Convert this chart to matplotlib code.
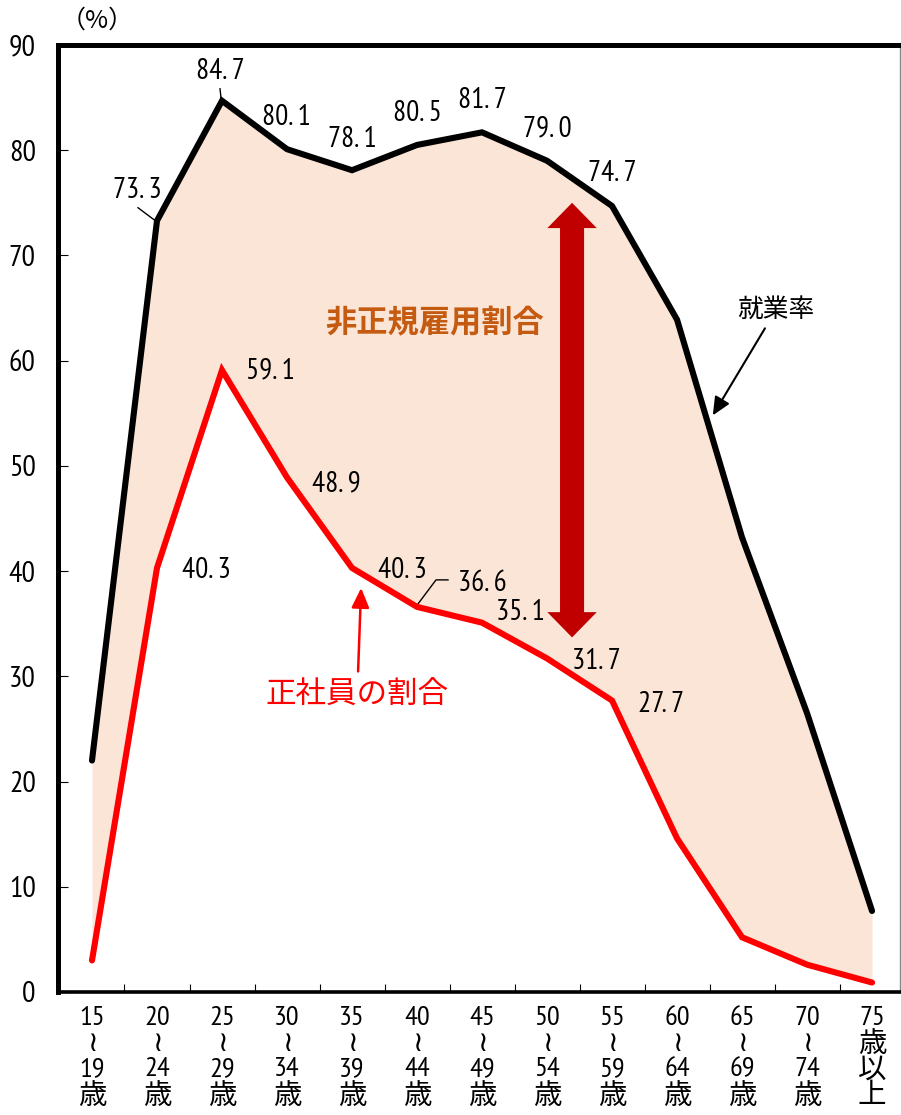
#!/usr/bin/env python3

import matplotlib
matplotlib.use('Agg')
import matplotlib.pyplot as plt
import matplotlib.transforms as mtransforms
from matplotlib.lines import Line2D
from matplotlib.patches import Polygon

NUM_FONT = ['PT Sans Narrow', 'DejaVu Sans', 'Noto Sans CJK JP']
JP_FONT = ['Noto Sans CJK JP', 'DejaVu Sans']

# age bands: lower bound, upper bound (None = open ended)
age_from = ['15', '20', '25', '30', '35', '40', '45', '50', '55', '60', '65', '70', '75']
age_to = ['19', '24', '29', '34', '39', '44', '49', '54', '59', '64', '69', '74', None]
employment_rate = [22.0, 73.3, 84.7, 80.1, 78.1, 80.5, 81.7, 79.0, 74.7, 63.9, 43.2, 26.5, 7.7]
regular_share = [3.0, 40.3, 59.1, 48.9, 40.3, 36.6, 35.1, 31.7, 27.7, 14.6, 5.2, 2.6, 0.9]

# label offsets in pixels from each point (None = no label)
emp_offsets = [None, (-20, 33), (-2, 32), (-1, 35), (0, 34), (0, 34), (0, 35), (0, 35), (0, 35),
               None, None, None, None]
reg_offsets = [None, (49, 0), (48, 2), (49, -3), (50, 0), (65, 26), (38, 13), (49, 0), (49, -1),
               None, None, None, None]

FILL = '#FBE5D6'
DARKRED = '#C00000'
ORANGE = '#C55A11'

W, H = 901, 1115


def fmt(v):
    return '{:.1f}'.format(v).replace('.', '. ')


def leader(ax, x, y, pts):
    # polyline given as pixel offsets from a data point
    px, py = ax.transData.transform((x, y))
    xs = [px + dx for dx, dy in pts]
    ys = [py + dy for dx, dy in pts]
    ax.add_line(Line2D(xs, ys, color='black', lw=1.0,
                       transform=mtransforms.IdentityTransform()))


def double_arrow(ax, xc, y_top, y_bot, shaft, head, h, color):
    pts = [(xc, y_top), (xc + head, y_top - h), (xc + shaft, y_top - h),
           (xc + shaft, y_bot + h), (xc + head, y_bot + h), (xc, y_bot),
           (xc - head, y_bot + h), (xc - shaft, y_bot + h), (xc - shaft, y_top - h),
           (xc - head, y_top - h)]
    ax.add_patch(Polygon(pts, closed=True, facecolor=color, edgecolor='none', zorder=2))


def main():
    fig = plt.figure(figsize=(W / 100, H / 100), dpi=100)
    ax = fig.add_axes([58 / W, 123 / H, (900 - 58) / W, (992 - 45) / H])

    x = list(range(len(age_from)))
    ax.set_xlim(-0.523, 12.43)
    ax.set_ylim(0, 90)

    ax.fill_between(x, regular_share, employment_rate, color=FILL, lw=0, zorder=1)
    ax.plot(x, employment_rate, color='black', lw=4.4, solid_capstyle='round',
            solid_joinstyle='miter', zorder=4)
    ax.plot(x, regular_share, color='#FF0000', lw=4.4, solid_capstyle='round',
            solid_joinstyle='miter', zorder=4)

    for vals, offsets in [(employment_rate, emp_offsets), (regular_share, reg_offsets)]:
        for i, (v, off) in enumerate(zip(vals, offsets)):
            if off is None:
                continue
            ax.annotate(fmt(v), (i, v), xytext=(off[0], off[1] - 3),
                        textcoords='offset pixels', ha='center', va='center',
                        fontsize=21, family=NUM_FONT, zorder=5)

    leader(ax, 1, employment_rate[1], [(-19, 13), (-3, 1)])
    leader(ax, 2, employment_rate[2], [(-2, 12), (-1, 3)])
    leader(ax, 5, regular_share[5], [(31, 27), (19, 27), (1, 3)])

    # spread between employment and regular share
    double_arrow(ax, 7.385, 75.0, 33.7, 0.185, 0.38, 2.4, DARKRED)
    ax.text(5.266, 63.5, '非正規雇用割合', ha='center', va='center', fontsize=22.5,
            fontweight='bold', color=ORANGE, family=JP_FONT, zorder=5)

    ax.annotate('就業率', xy=(9.55, 54.8), xytext=(10.52, 64.8), ha='center', va='center',
                fontsize=18.5, family=JP_FONT, zorder=5,
                arrowprops=dict(arrowstyle='-|>,head_length=0.55,head_width=0.25',
                                mutation_scale=20, color='black', lw=1.5,
                                shrinkA=2, shrinkB=0))
    ax.annotate('正社員の割合', xy=(4.14, 38.4), xytext=(4.08, 28.2), ha='center', va='center',
                fontsize=22, family=JP_FONT, color='#FF0000', zorder=5,
                arrowprops=dict(arrowstyle='-|>,head_length=0.6,head_width=0.27',
                                mutation_scale=20, color='#FF0000', lw=1.8,
                                shrinkA=4, shrinkB=0))

    ax.set_yticks(range(0, 91, 10))
    ax.tick_params(axis='y', direction='in', length=7, width=0.8, pad=16,
                   labelsize=21.5)
    for lab in ax.get_yticklabels():
        lab.set_family(NUM_FONT)

    # age labels stacked vertically under each category
    ax.set_xticks([])
    ax.set_xticks([i + 0.5 for i in range(len(x) - 1)], minor=True)
    ax.tick_params(axis='x', which='minor', direction='in', length=6, width=0.8)
    trans = mtransforms.blended_transform_factory(ax.transData, fig.transFigure)
    for i, (lo, hi) in enumerate(zip(age_from, age_to)):
        if hi is None:
            label, spacing = lo + '\n歳\n以\n上', 1.05
        else:
            label, spacing = lo + '\n≀\n' + hi + '\n歳', 1.08
        ax.text(i, 1 - 1006 / H, label, transform=trans, ha='center', va='top',
                fontsize=20.5, family=NUM_FONT, linespacing=spacing, clip_on=False)

    for side in ['left', 'top']:
        ax.spines[side].set_linewidth(3.6)
    ax.spines['bottom'].set_linewidth(2.6)
    ax.spines['right'].set_linewidth(1.0)
    ax.spines['right'].set_color('#888888')

    fig.text(97 / W, 1 - 21 / H, '（%）', ha='center', va='center', fontsize=18,
             family=JP_FONT)

    fig.savefig('out.png', dpi=100)


if __name__ == "__main__":
    main()
